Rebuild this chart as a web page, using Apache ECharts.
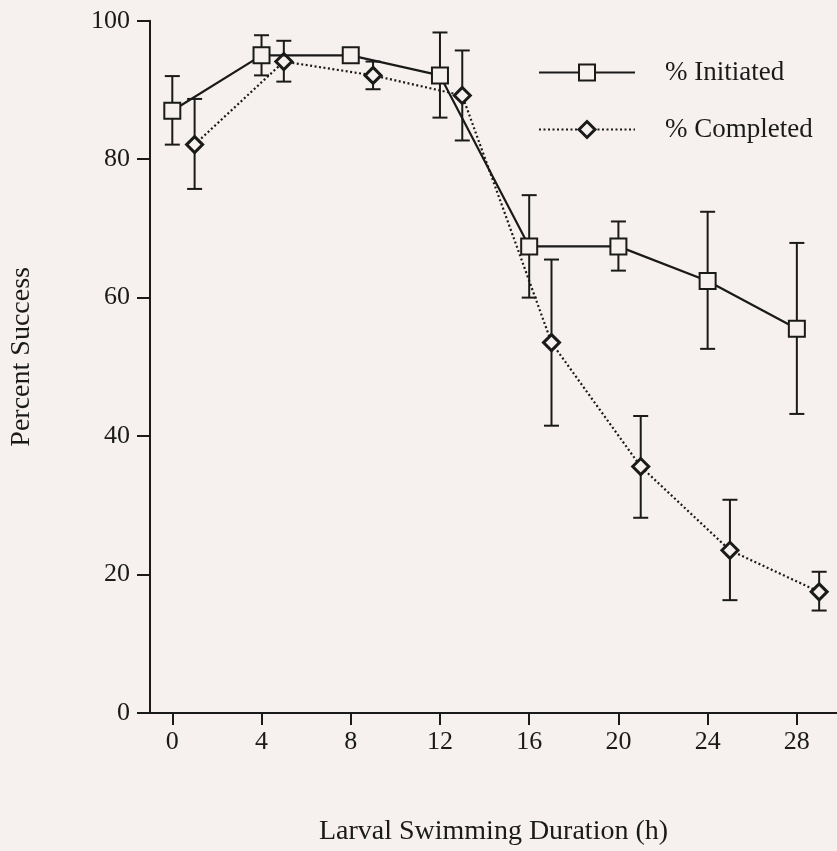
<!DOCTYPE html>
<html>
<head>
<meta charset="utf-8">
<script src="https://cdn.jsdelivr.net/npm/echarts@6/dist/echarts.min.js"></script>
<style>
html,body{margin:0;padding:0;background:#f6f1ee;}
#c{width:837px;height:851px;}
</style>
</head>
<body>
<div id="c"></div>
<script>
const xTicks = [0, 4, 8, 12, 16, 20, 24, 28];
const yTicks = [0, 20, 40, 60, 80, 100];

const xInit = [0, 4, 8, 12, 16, 20, 24, 28];
const initiated = [87, 95, 95, 92.1, 67.4, 67.4, 62.4, 55.5];
const initLow  = [82.1, 92.1, 95, 86.0, 60.0, 63.9, 52.6, 43.2];
const initHigh = [92.0, 97.9, 95, 98.3, 74.8, 71.0, 72.4, 67.9];

const xComp = [1, 5, 9, 13, 17, 21, 25, 29];
const completed = [82.1, 94.1, 92.1, 89.2, 53.5, 35.6, 23.5, 17.5];
const compLow  = [75.7, 91.2, 90.1, 82.7, 41.5, 28.2, 16.3, 14.8];
const compHigh = [88.7, 97.1, 94.1, 95.7, 65.5, 42.9, 30.8, 20.4];

const BG = '#f6f1ee';
const INK = '#1a1a1a';
const FONT = 'Liberation Serif';

function errRender(params, api) {
  const x = api.value(0), lo = api.value(1), hi = api.value(2);
  if (hi - lo < 0.01) return null;
  const pLo = api.coord([x, lo]);
  const pHi = api.coord([x, hi]);
  const hw = 7.5;
  const st = {stroke: INK, lineWidth: 2};
  return {
    type: 'group',
    children: [
      {type: 'line', shape: {x1: pLo[0], y1: pLo[1], x2: pHi[0], y2: pHi[1]}, style: st},
      {type: 'line', shape: {x1: pLo[0]-hw, y1: pLo[1], x2: pLo[0]+hw, y2: pLo[1]}, style: st},
      {type: 'line', shape: {x1: pHi[0]-hw, y1: pHi[1], x2: pHi[0]+hw, y2: pHi[1]}, style: st}
    ]
  };
}

const chart = echarts.init(document.getElementById('c'), null, {renderer: 'canvas'});
chart.setOption({
  backgroundColor: BG,
  animation: false,
  grid: {left: 150, right: 0, top: 20.7, bottom: 135.5},
  xAxis: {
    type: 'value', min: -1, max: 29.8,
    name: 'Larval Swimming Duration (h)', nameLocation: 'middle', nameGap: 105,
    nameTextStyle: {fontFamily: FONT, fontSize: 28, color: INK},
    axisLine: {onZero: false, lineStyle: {color: INK, width: 2}},
    axisTick: {show: true, length: 12, lineStyle: {color: INK, width: 2}, customValues: xTicks},
    axisLabel: {fontFamily: FONT, fontSize: 26, color: INK, margin: 16, customValues: xTicks},
    splitLine: {show: false}
  },
  yAxis: {
    type: 'value', min: 0, max: 100, interval: 20,
    name: 'Percent Success', nameLocation: 'middle', nameGap: 114,
    nameTextStyle: {fontFamily: FONT, fontSize: 28, color: INK, padding: [0, 0, 0, 20]},
    axisLine: {show: true, onZero: false, lineStyle: {color: INK, width: 2}},
    axisTick: {show: true, length: 13, lineStyle: {color: INK, width: 2}},
    axisLabel: {fontFamily: FONT, fontSize: 26, color: INK, margin: 20},
    splitLine: {show: false}
  },
  legend: {
    orient: 'vertical', left: 533, top: 54, itemWidth: 96, itemHeight: 20, itemGap: 30,
    textStyle: {fontFamily: FONT, fontSize: 27, color: INK, padding: [0, 0, 0, 25]},
    data: [
      {name: '% Initiated', itemStyle: {borderWidth: 2}},
      {name: '% Completed', itemStyle: {borderWidth: 3}}
    ]
  },
  series: [
    {
      type: 'custom', name: 'errInit', renderItem: errRender, z: 1,
      encode: {x: 0, y: [1, 2]},
      data: xInit.map((x, i) => [x, initLow[i], initHigh[i]])
    },
    {
      type: 'custom', name: 'errComp', renderItem: errRender, z: 1,
      encode: {x: 0, y: [1, 2]},
      data: xComp.map((x, i) => [x, compLow[i], compHigh[i]])
    },
    {
      type: 'line', name: '% Completed', z: 3,
      data: xComp.map((x, i) => [x, completed[i]]),
      symbol: 'diamond', symbolSize: [16, 16],
      lineStyle: {color: INK, width: 2.2, type: [2, 2.5]},
      itemStyle: {color: BG, borderColor: INK, borderWidth: 3}
    },
    {
      type: 'line', name: '% Initiated', z: 4,
      data: xInit.map((x, i) => [x, initiated[i]]),
      symbol: 'rect', symbolSize: 16,
      lineStyle: {color: INK, width: 2.2, type: 'solid'},
      itemStyle: {color: BG, borderColor: INK, borderWidth: 2}
    }
  ]
});
</script>
</body>
</html>
